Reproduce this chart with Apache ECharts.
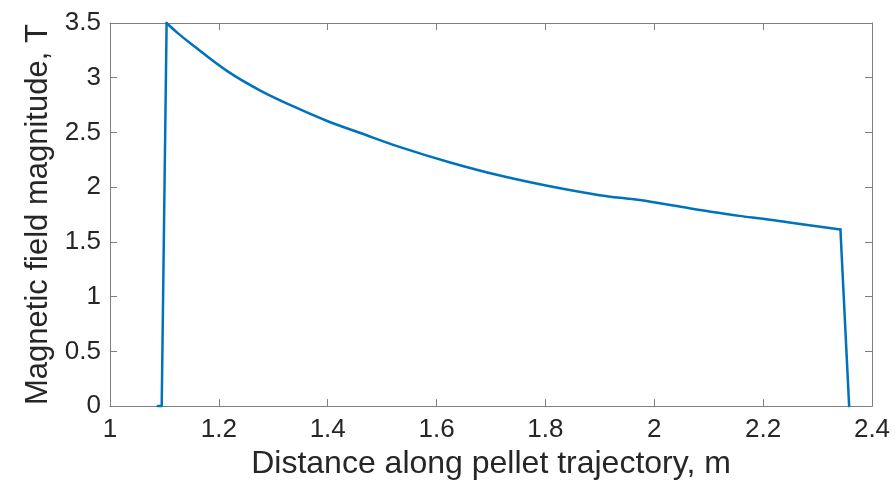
<!DOCTYPE html>
<html>
<head>
<meta charset="utf-8">
<script src="https://cdn.jsdelivr.net/npm/echarts@6/dist/echarts.min.js"></script>
<style>
html,body{margin:0;padding:0;background:#fff;}
#chart{width:895px;height:485px;}
</style>
</head>
<body>
<div id="chart"></div>
<script>
// Data
// steep rise and drop at the ends of the trajectory
const edgeInDistance = [1.088, 1.095, 1.104];
const edgeInField = [0, 0, 3.5];
const edgeOutDistance = [2.342, 2.358];
const edgeOutField = [1.613, 0];
// decaying part between the edges
const curveDistance = [1.104, 1.124, 1.154, 1.2155, 1.277, 1.338, 1.399, 1.46, 1.533, 1.625, 1.7165, 1.808, 1.8995, 1.973, 2.065, 2.156, 2.2, 2.248, 2.342];
const curveField = [3.5, 3.41, 3.29, 3.06, 2.88, 2.735, 2.605, 2.495, 2.366, 2.226, 2.106, 2.008, 1.927, 1.882, 1.807, 1.738, 1.712, 1.678, 1.613];
const xTicks = [1, 1.2, 1.4, 1.6, 1.8, 2, 2.2, 2.4];
const yTicks = [0, 0.5, 1, 1.5, 2, 2.5, 3, 3.5];

const xTitle = 'Distance along pellet trajectory, m';
const yTitle = 'Magnetic field magnitude, T';

const pairs = (xs, ys) => xs.map((d, i) => [d, ys[i]]);

const axisColor = '#808080';
const textColor = '#262626';
const lineColor = '#0072BD';
const fontFamily = '"Liberation Sans", Arial, Helvetica, sans-serif';

const chart = echarts.init(document.getElementById('chart'), null, {renderer: 'canvas'});

function tickCfg() {
  return {show: true, inside: true, length: 7, lineStyle: {color: axisColor, width: 1}};
}

function xAxisCfg(pos, extra) {
  return Object.assign({
    type: 'value',
    position: pos,
    min: xTicks[0],
    max: xTicks[xTicks.length - 1],
    interval: 0.2,
    splitLine: {show: false},
    axisLine: {show: true, onZero: false, lineStyle: {color: axisColor, width: 1}},
    axisTick: tickCfg()
  }, extra);
}
function yAxisCfg(pos, extra) {
  return Object.assign({
    type: 'value',
    position: pos,
    min: yTicks[0],
    max: yTicks[yTicks.length - 1],
    interval: 0.5,
    splitLine: {show: false},
    axisLine: {show: true, onZero: false, lineStyle: {color: axisColor, width: 1}},
    axisTick: tickCfg()
  }, extra);
}

const lineSeries = (data, smooth) => ({
  type: 'line',
  xAxisIndex: 0,
  yAxisIndex: 0,
  data: data,
  showSymbol: false,
  symbol: 'none',
  smooth: smooth,
  clip: false,
  z: 5,
  lineStyle: {color: lineColor, width: 2.5, join: 'round', cap: 'round'},
  itemStyle: {color: lineColor}
});

chart.setOption({
  animation: false,
  backgroundColor: '#ffffff',
  grid: {left: 110, right: 23, top: 23, bottom: 72, containLabel: false},
  xAxis: [
    xAxisCfg('bottom', {
      name: xTitle,
      nameLocation: 'middle',
      nameGap: 32,
      nameTextStyle: {fontSize: 32, color: textColor, fontFamily: fontFamily},
      axisLabel: {
        show: true, margin: 11, fontSize: 26, color: textColor, fontFamily: fontFamily,
        formatter: v => String(Math.round(v * 10) / 10)
      }
    }),
    xAxisCfg('top', {axisLabel: {show: false}})
  ],
  yAxis: [
    yAxisCfg('left', {
      name: yTitle,
      nameLocation: 'middle',
      nameGap: 56,
      nameTextStyle: {fontSize: 31, color: textColor, fontFamily: fontFamily},
      axisLabel: {
        show: true, margin: 9, fontSize: 26, color: textColor, fontFamily: fontFamily,
        formatter: v => String(Math.round(v * 10) / 10)
      }
    }),
    yAxisCfg('right', {axisLabel: {show: false}})
  ],
  series: [
    lineSeries(pairs(edgeInDistance, edgeInField), false),
    lineSeries(pairs(curveDistance, curveField), 0.35),
    lineSeries(pairs(edgeOutDistance, edgeOutField), false)
  ]
});
</script>
</body>
</html>
